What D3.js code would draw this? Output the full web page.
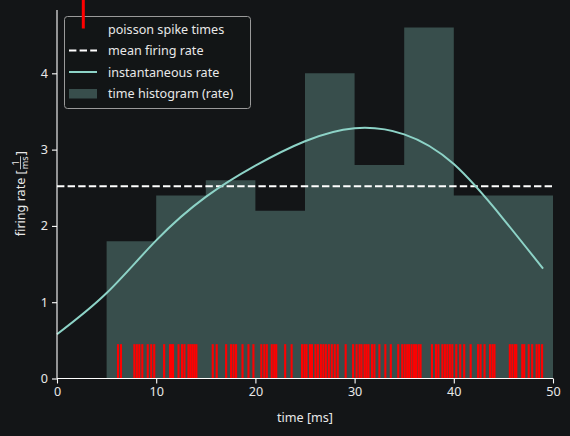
<!DOCTYPE html>
<html>
<head>
  <meta charset="utf-8">
  <script src="https://d3js.org/d3.v7.min.js"></script>
  <style>
    body { margin: 0; background: #131517; }
    text { font-family: "Noto Sans", sans-serif; fill: #e8e8e8; }
  </style>
</head>
<body>
<div id="vis"></div>
<script>
  // histogram (rate per 5 ms bin)
  var binEdges = [0, 5, 10, 15, 20, 25, 30, 35, 40, 45, 50];
  var binRates = [0, 1.8, 2.4, 2.6, 2.2, 4.0, 2.8, 4.6, 2.4, 2.4];
  var meanRate = 2.52;

  // instantaneous rate curve
  var rateTimes = [0, 5, 10, 15, 20, 25, 30, 35, 40, 45, 49];
  var rateValues = [0.58, 1.12, 1.81, 2.38, 2.79, 3.11, 3.28, 3.20, 2.81, 2.09, 1.44];

  // spike times [ms]
  var spikeTimes = [
    6.15, 6.45, 7.8, 8.05, 8.3, 8.6, 9.15, 9.5, 9.8,
    10.8, 11.4, 11.55, 11.7, 12.25, 12.6, 12.85, 13.25, 13.45, 13.65, 13.85, 14.05,
    15.7, 16.1, 17.05, 17.55, 17.8, 18.05, 18.7, 19.3, 19.8,
    20.6, 20.9, 21.15, 21.65, 21.9, 22.1, 23.0, 23.65, 24.7, 24.95,
    25.15, 25.5, 25.7, 26.05, 26.3, 26.6, 26.85, 27.1, 27.4, 27.7, 28.0, 28.3, 29.1, 29.85,
    30.2, 30.5, 30.7, 31.0, 31.2, 31.4, 31.75, 32.0, 32.5, 33.1, 33.65, 34.4, 34.8,
    35.05, 35.3, 35.5, 35.75, 36.0, 36.2, 36.45, 36.65, 37.8, 38.2, 38.45, 38.85, 39.1, 39.35, 39.6, 39.85,
    40.25, 40.65, 41.05, 41.7, 42.45, 42.7, 43.1, 43.65, 43.9, 44.1,
    45.65, 45.9, 46.15, 46.3, 46.9, 47.1, 47.55, 47.9, 48.35, 48.6, 48.9
  ];
  var spikeHeight = 0.45;

  var xTicks = [0, 10, 20, 30, 40, 50];
  var yTicks = [0, 1, 2, 3, 4];

  var width = 570, height = 436;
  var pLeft = 57, pRight = 553, pTop = 10, pBottom = 378.5;
  var fs = '12.6px';

  var svg = d3.select('#vis').append('svg')
    .attr('width', width)
    .attr('height', height);

  svg.append('rect').attr('width', width).attr('height', height).attr('fill', '#131517');

  var x = d3.scaleLinear().domain([0, 50]).range([pLeft, pRight]);
  var y = d3.scaleLinear().domain([0, 4.83]).range([pBottom, pTop]);

  // histogram as one stepped area (no seams between bins)
  var histPts = binEdges.map((e, i) => [e, i < binRates.length ? binRates[i] : binRates[binRates.length - 1]]);
  svg.append('path')
    .datum(histPts)
    .attr('d', d3.area()
      .x(d => x(d[0]))
      .y0(y(0))
      .y1(d => y(d[1]))
      .curve(d3.curveStepAfter))
    .attr('fill', '#384e4c');

  // spikes
  svg.append('g').selectAll('line')
    .data(spikeTimes)
    .enter().append('line')
    .attr('x1', d => x(d)).attr('x2', d => x(d))
    .attr('y1', y(0)).attr('y2', y(spikeHeight))
    .attr('stroke', 'red')
    .attr('stroke-width', 2.1);

  // mean rate
  svg.append('line')
    .attr('x1', x(0)).attr('x2', x(50))
    .attr('y1', y(meanRate)).attr('y2', y(meanRate))
    .attr('stroke', 'white')
    .attr('stroke-width', 2)
    .attr('stroke-dasharray', '7.4,3.2');

  // instantaneous rate
  var line = d3.line()
    .x((d, i) => x(rateTimes[i]))
    .y(d => y(d))
    .curve(d3.curveNatural);

  svg.append('path')
    .datum(rateValues)
    .attr('d', line)
    .attr('fill', 'none')
    .attr('stroke', '#8dd3c7')
    .attr('stroke-width', 2);

  // axes
  var xAxis = svg.append('g')
    .attr('transform', 'translate(0,' + pBottom + ')')
    .call(d3.axisBottom(x).tickValues(xTicks).tickFormat(d3.format('d')).tickSize(5).tickPadding(4));
  var yAxis = svg.append('g')
    .attr('transform', 'translate(' + pLeft + ',0)')
    .call(d3.axisLeft(y).tickValues(yTicks).tickFormat(d3.format('d')).tickSize(5).tickPadding(4));

  [xAxis, yAxis].forEach(function (a) {
    a.select('.domain').attr('stroke', 'white').attr('stroke-width', 1.1);
    a.selectAll('.tick line').attr('stroke', 'white').attr('stroke-width', 1.1);
    a.selectAll('.tick text')
      .style('font-family', '"Noto Sans", sans-serif')
      .style('font-size', fs)
      .attr('fill', '#e8e8e8');
  });
  // plain spines, no outer ticks
  xAxis.select('.domain').attr('d', 'M' + pLeft + ',0H' + pRight);
  yAxis.select('.domain').attr('d', 'M0,' + pBottom + 'V' + pTop);

  // axis labels
  svg.append('text')
    .attr('x', (pLeft + pRight) / 2).attr('y', 422)
    .attr('text-anchor', 'middle')
    .style('font-size', fs)
    .text('time [ms]');

  var yl = svg.append('g')
    .attr('transform', 'translate(25,' + ((pTop + pBottom) / 2) + ') rotate(-90)');
  var ylt = yl.append('text')
    .attr('x', 0).attr('y', 0)
    .style('font-size', fs)
    .text('firing rate [');
  var base = ylt.node().getComputedTextLength();
  var total = base + 14 + 4;
  ylt.attr('x', -total / 2);
  var fx = -total / 2 + base + 1;
  yl.append('text').attr('x', fx + 6.5).attr('y', -6)
    .attr('text-anchor', 'middle').style('font-size', '9px').text('1');
  yl.append('line').attr('x1', fx).attr('x2', fx + 13)
    .attr('y1', -4.5).attr('y2', -4.5).attr('stroke', '#e8e8e8').attr('stroke-width', 0.8);
  yl.append('text').attr('x', fx + 6.5).attr('y', 3)
    .attr('text-anchor', 'middle').style('font-size', '9px').text('ms');
  yl.append('text').attr('x', fx + 14).attr('y', 0)
    .style('font-size', fs).text(']');

  // legend
  var lg = svg.append('g');
  lg.append('rect')
    .attr('x', 64.5).attr('y', 16.5).attr('width', 186).attr('height', 92)
    .attr('rx', 3)
    .attr('fill', '#131517').attr('fill-opacity', 0.8)
    .attr('stroke', '#9a9a9a').attr('stroke-width', 1);
  var items = ['poisson spike times', 'mean firing rate', 'instantaneous rate', 'time histogram (rate)'];
  var rowY = [29.5, 50.5, 72, 93.5];
  lg.append('line')
    .attr('x1', 83.3).attr('x2', 83.3).attr('y1', 0).attr('y2', 28.5)
    .attr('stroke', 'red').attr('stroke-width', 3);
  lg.append('line')
    .attr('x1', 69).attr('x2', 97).attr('y1', rowY[1]).attr('y2', rowY[1])
    .attr('stroke', 'white').attr('stroke-width', 2).attr('stroke-dasharray', '7.4,3.2');
  lg.append('line')
    .attr('x1', 69).attr('x2', 97).attr('y1', rowY[2]).attr('y2', rowY[2])
    .attr('stroke', '#8dd3c7').attr('stroke-width', 2);
  lg.append('rect')
    .attr('x', 69).attr('y', 89).attr('width', 28).attr('height', 9.5)
    .attr('fill', '#384e4c');
  lg.selectAll('text.item')
    .data(items)
    .enter().append('text')
    .attr('class', 'item')
    .attr('x', 108)
    .attr('y', (d, i) => rowY[i] + 4.5)
    .style('font-size', fs)
    .text(d => d);
</script>
</body>
</html>
